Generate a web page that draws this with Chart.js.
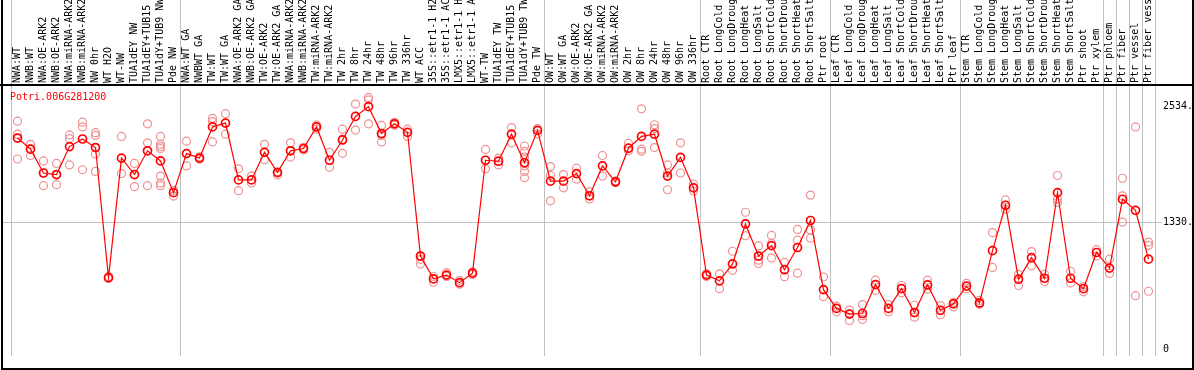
<!DOCTYPE html>
<html>
<head>
<meta charset="utf-8">
<script src="https://cdn.jsdelivr.net/npm/chart.js@4"></script>
<style>
  body { margin: 0; background: #fff; }
  canvas { display: block; }
</style>
</head>
<body>
<canvas id="myChart" width="1194" height="370"></canvas>
<script>
// GENE EXPRESSION PROFILE

const geneName = "Potri.006G281200";

const cats = [
  "NWA:WT", "NWB:WT", "NWA:OE-ARK2", "NWB:OE-ARK2", "NWA:miRNA-ARK2", "NWB:miRNA-ARK2",
  "NW 0hr", "WT H2O", "WT-NW", "TUA1dEY NW", "TUA1dEY+TUB15", "TUA1dY+TUB9 NW", "Pde NW",
  "NWA:WT GA", "NWBWT GA", "TW:WT", "TW:WT GA", "NWA:OE-ARK2 GA", "NWB:OE-ARK2 GA",
  "TW:OE-ARK2", "TW:OE-ARK2 GA", "NWA:miRNA-ARK2", "NWB:miRNA-ARK2", "TW:miRNA-ARK2",
  "TW:miRNA-ARK2", "TW 2hr", "TW 8hr", "TW 24hr", "TW 48hr", "TW 96hr", "TW 336hr",
  "WT ACC", "35S::etr1-1 H2O", "35S::etr1-1 ACC", "LMX5::etr1-1 H2O", "LMX5::etr1-1 ACC",
  "WT-TW", "TUA1dEY TW", "TUA1dEY+TUB15", "TUA1dY+TUB9 TW", "Pde TW",
  "OW:WT", "OW:WT GA", "OW:OE-ARK2", "OW:OE-ARK2 GA", "OW:miRNA-ARK2", "OW:miRNA-ARK2",
  "OW 2hr", "OW 8hr", "OW 24hr", "OW 48hr", "OW 96hr", "OW 336hr",
  "Root CTR", "Root LongCold", "Root LongDrought", "Root LongHeat", "Root LongSalt",
  "Root ShortCold", "Root ShortDrought", "Root ShortHeat", "Root ShortSalt", "Ptr root",
  "Leaf CTR", "Leaf LongCold", "Leaf LongDrought", "Leaf LongHeat", "Leaf LongSalt",
  "Leaf ShortCold", "Leaf ShortDrought", "Leaf ShortHeat", "Leaf ShortSalt", "Ptr leaf",
  "Stem CTR", "Stem LongCold", "Stem LongDrought", "Stem LongHeat", "Stem LongSalt",
  "Stem ShortCold", "Stem ShortDrought", "Stem ShortHeat", "Stem ShortSalt", "Ptr shoot",
  "Ptr xylem", "Ptr phloem", "Ptr fiber", "Ptr vessel", "Ptr fiber vessel"
];

// first category of each sample group (last entry = end)
const groupStarts = [0, 13, 41, 53, 63, 73, 84, 85, 86, 87, 88];

const means = [
  2206, 2090, 1841, 1825, 2117, 2196, 2107, 748, 1997, 1825, 2073, 1967, 1636,
  2044, 1997, 2322, 2362, 1769, 1769, 2057, 1848, 2073, 2097, 2322, 1974, 2186,
  2432, 2534, 2253, 2355, 2266, 974, 735, 775, 696, 795, 1974, 1964, 2246, 1948, 2286,
  1756, 1756, 1835, 1603, 1915, 1749, 2100, 2223, 2246, 1809, 2004, 1686,
  775, 715, 891, 1309, 974, 1083, 831, 1063, 1345, 623,
  427, 368, 374, 676, 427, 633, 384, 672, 407, 474,
  659, 484, 1030, 1504, 732, 957, 742, 1636, 742, 633, 1011,
  848, 1567, 1451, 941
];

const reps = [
  [2382, 2246, 1987], [2140, 2024, 2090], [1967, 1841, 1709], [1941, 1825, 1719],
  [2239, 2199, 1925], [2372, 2322, 1875], [2262, 2233, 2040, 1858], [760, 740],
  [2223, 1835], [1941, 1699], [2355, 2156, 1709], [2223, 2140, 2117, 2097, 1809, 1736, 1709],
  [1660, 1600],
  [2173, 1915], [2010, 1985], [2412, 2378, 2166], [2461, 2246], [1885, 1656], [1809, 1736],
  [2140, 1980], [1840, 1820], [2156, 2007], [2080, 2110], [2340, 2300], [2057, 1901],
  [2299, 2196, 2047], [2561, 2289], [2630, 2604, 2355], [2338, 2233, 2166], [2340, 2370],
  [2299, 2223], [940, 890], [760, 700], [800, 760], [720, 680], [810, 780],
  [2087, 1885], [1997, 1925], [2315, 2156], [2123, 2067, 2007, 1915, 1858, 1792], [2305, 2250],
  [1908, 1815, 1550], [1825, 1686], [1891, 1776], [1643, 1570], [2024, 1809], [1760, 1740],
  [2150, 2073], [2511, 2090, 2067], [2345, 2305, 2107], [1925, 1841, 1666], [2156, 1841],
  [1726, 1653],
  [760, 790], [788, 633], [1024, 825], [1431, 1186], [1080, 931, 897], [1189, 1106, 954],
  [907, 758], [1252, 1140, 795], [1610, 1245, 1160], [755, 550],
  [450, 391], [410, 301], [467, 351, 311], [722, 616], [467, 391], [666, 590],
  [460, 335], [722, 626], [457, 358], [490, 444],
  [689, 633], [510, 470], [1219, 855], [1560, 1461], [782, 666], [1021, 872],
  [782, 709], [1815, 1570, 1533], [815, 693], [656, 600], [1040, 974],
  [941, 792], [1786, 1603, 1329], [2322, 560], [1120, 1086, 606]
];

const yTicks = [0, 1330, 2534];
const gridValue = 1330;

const monoFont = { family: "'DejaVu Sans Mono', monospace", size: 10 };

const meanPoints = means.map((v, i) => ({ x: i, y: v }));
const repPoints = [];
reps.forEach((list, i) => list.forEach(v => repPoints.push({ x: i, y: v })));

const frame = {
  id: 'frame',
  beforeDatasetsDraw(chart) {
    const ctx = chart.ctx;
    const xs = chart.scales.x, ys = chart.scales.y;
    const area = chart.chartArea;
    ctx.save();
    ctx.strokeStyle = '#c0c0c0';
    ctx.lineWidth = 1;
    groupStarts.forEach(g => {
      const px = Math.round(xs.getPixelForValue(g - 0.5)) + 0.5;
      ctx.beginPath();
      ctx.moveTo(px, 0);
      ctx.lineTo(px, area.bottom);
      ctx.stroke();
    });
    const gy = Math.round(ys.getPixelForValue(gridValue)) + 0.5;
    ctx.beginPath();
    ctx.moveTo(2, gy);
    ctx.lineTo(area.right + 7, gy);
    ctx.stroke();
    ctx.restore();
  },
  afterDraw(chart) {
    const ctx = chart.ctx;
    const area = chart.chartArea;
    const w = chart.width, h = chart.height;
    ctx.save();
    ctx.strokeStyle = '#000';
    ctx.lineWidth = 2;
    ctx.beginPath();
    ctx.moveTo(2, 0); ctx.lineTo(2, h - 1);
    ctx.lineTo(w - 1, h - 1); ctx.lineTo(w - 1, 0);
    ctx.moveTo(0, area.top); ctx.lineTo(w, area.top);
    ctx.stroke();
    ctx.fillStyle = '#ff0000';
    ctx.font = "10px 'DejaVu Sans Mono', monospace";
    ctx.textBaseline = 'middle';
    ctx.fillText(geneName, 10, area.top + 12);
    ctx.restore();
  }
};

new Chart("myChart", {
  data: {
    datasets: [{
      type: 'line',
      data: meanPoints,
      borderColor: '#ff0000',
      borderWidth: 1.2,
      pointRadius: 4,
      pointBorderWidth: 1.7,
      pointBorderColor: '#ff0000',
      pointBackgroundColor: 'rgba(0,0,0,0)',
      tension: 0,
      order: 0
    }, {
      type: 'line',
      data: repPoints,
      showLine: false,
      pointRadius: 4,
      pointBorderWidth: 1.2,
      pointBorderColor: '#ef9090',
      pointBackgroundColor: 'rgba(0,0,0,0)',
      order: 1
    }]
  },
  plugins: [frame],
  options: {
    responsive: false,
    animation: false,
    layout: { padding: { left: 11, bottom: 2, top: 0, right: 0 } },
    plugins: { legend: { display: false }, tooltip: { enabled: false } },
    scales: {
      x: {
        type: 'linear',
        position: 'top',
        min: -0.5,
        max: cats.length - 0.5,
        afterBuildTicks: s => { s.ticks = cats.map((c, i) => ({ value: i })); },
        afterFit: s => { s.height = 85; },
        grid: { display: false, drawTicks: false },
        border: { display: false },
        ticks: {
          autoSkip: false,
          minRotation: 90,
          maxRotation: 90,
          padding: 2,
          labelOffset: 12,
          color: '#000',
          font: monoFont,
          callback: v => cats[v]
        }
      },
      y: {
        type: 'linear',
        position: 'right',
        min: -70,
        max: 2760,
        afterBuildTicks: s => { s.ticks = yTicks.map(v => ({ value: v })); },
        afterFit: s => { s.width = 39; },
        grid: { display: false, drawTicks: false },
        border: { display: false },
        ticks: {
          padding: 8,
          color: '#000',
          font: monoFont,
          callback: v => v === 0 ? '0' : v + '.'
        }
      }
    }
  }
});
</script>
</body>
</html>
